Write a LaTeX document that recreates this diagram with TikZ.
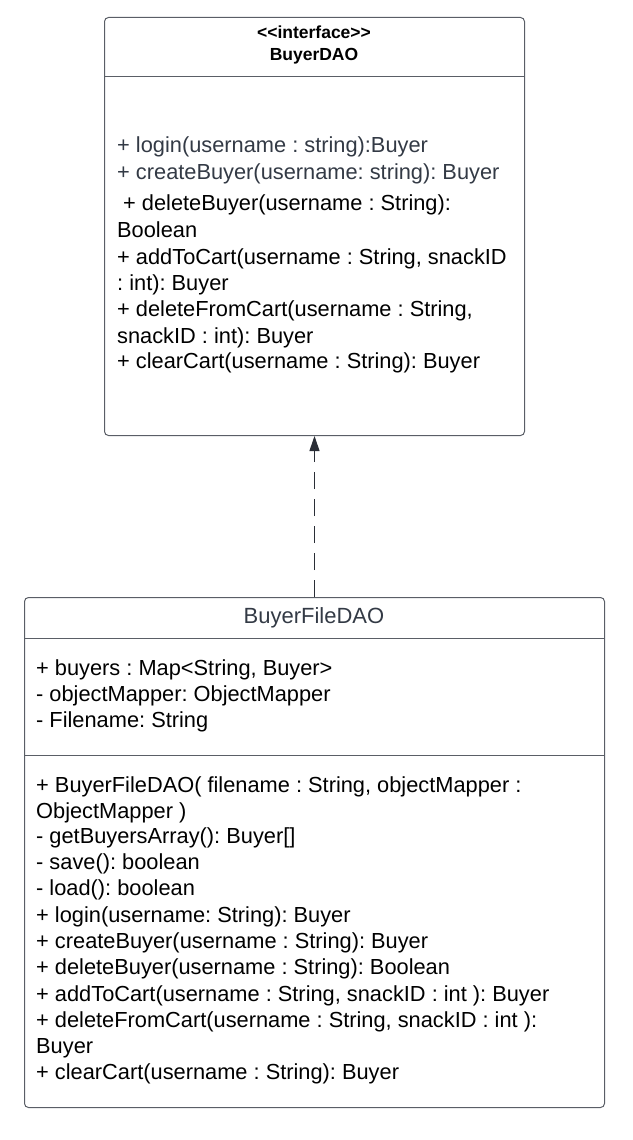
\documentclass[tikz,border=0pt]{standalone}
\usepackage{fontspec}
\setmainfont[Ligatures=NoCommon]{Liberation Sans}
\frenchspacing
\usetikzlibrary{arrows.meta}
\definecolor{boxline}{HTML}{5A5E66}
\definecolor{slate}{HTML}{333A45}
\definecolor{arrowc}{HTML}{2A2E36}
\tikzset{
  umlbox/.style={draw=boxline, line width=1pt, rounded corners=4pt, anchor=north west, inner sep=0pt},
  txt/.style={anchor=base west, inner sep=0pt, font=\fontsize{21.8}{25}\selectfont, text=black},
  gtxt/.style={txt, text=slate},
  hdr/.style={anchor=base, inner sep=0pt, font=\bfseries\fontsize{17.5}{20}\selectfont},
  sep/.style={draw=boxline, line width=1pt},
  realize/.style={draw=arrowc, line width=1pt, dash pattern=on 17pt off 10pt, -{Triangle[width=10pt,length=15pt]}}
}
\begin{document}
\begin{tikzpicture}[x=1pt,y=-1pt]
\useasboundingbox (0,0) rectangle (632,1140);
% top box
\node[umlbox, minimum width=420pt, minimum height=418pt] (top) at (104,17) {};
\draw[sep] (104,76) -- (524,76);
\node[hdr] (stereo) at (314,39) {<\kern0pt<interface>\kern0pt>};
\node[hdr] (tname) at (314,61) {BuyerDAO};
\node[gtxt] (t1) at (117,152) {+ login(username : string):Buyer};
\node[gtxt] (t2) at (117,179) {+ createBuyer(username: string): Buyer};
\node[txt] (t3) at (123,210) {+ deleteBuyer(username : String):};
\node[txt] (t4) at (117,237) {Boolean};
\node[txt] (t5) at (117,264) {+ addToCart(username : String, snackID};
\node[txt] (t6) at (117,290) {: int): Buyer};
\node[txt] (t7) at (117,316) {+ deleteFromCart(username : String,};
\node[txt] (t8) at (117,343) {snackID : int): Buyer};
\node[txt] (t9) at (117,368) {+ clearCart(username : String): Buyer};
% bottom box
\node[umlbox, minimum width=580pt, minimum height=510pt] (bot) at (24,597) {};
\draw[sep] (24,638) -- (604,638);
\draw[sep] (24,755) -- (604,755);
\node[anchor=base, inner sep=0pt, font=\fontsize{22}{26}\selectfont, text=slate] (bname) at (314,623) {BuyerFileDAO};
\node[txt] (a1) at (36,675) {+ buyers : Map\textless String, Buyer\textgreater};
\node[txt] (a2) at (36,701) {- objectMapper: ObjectMapper};
\node[txt] (a3) at (36,727) {- Filename: String};
\node[txt] (m1) at (36,792) {+ BuyerFileDAO( filename : String, objectMapper :};
\node[txt] (m2) at (36,818) {ObjectMapper )};
\node[txt] (m3) at (36,843) {- getBuyersArray(): Buyer[]};
\node[txt] (m4) at (36,869) {- save(): boolean};
\node[txt] (m5) at (36,895) {- load(): boolean};
\node[txt] (m6) at (36,922) {+ login(username: String): Buyer};
\node[txt] (m7) at (36,948) {+ createBuyer(username : String): Buyer};
\node[txt] (m8) at (36,974) {+ deleteBuyer(username : String): Boolean};
\node[txt] (m9) at (36,1001) {+ addToCart(username : String, snackID : int ): Buyer};
\node[txt] (m10) at (36,1027) {+ deleteFromCart(username : String, snackID : int ):};
\node[txt] (m11) at (36,1053) {Buyer};
\node[txt] (m12) at (36,1079) {+ clearCart(username : String): Buyer};
% realization
\draw[realize] (bot.north) -- (top.south);
\end{tikzpicture}
\end{document}
